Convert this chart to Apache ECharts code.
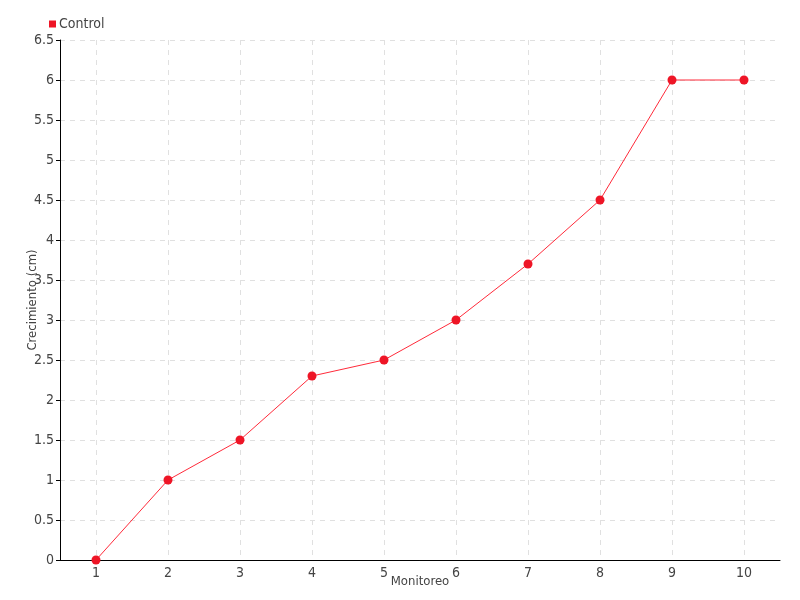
<!DOCTYPE html>
<html><head><meta charset="utf-8">
<script src="https://cdn.jsdelivr.net/npm/echarts@6/dist/echarts.min.js"></script>
<style>html,body{margin:0;padding:0;background:#fff}#c{width:800px;height:600px}</style>
</head><body><div id="c"></div>
<script>
var categories = ['1','2','3','4','5','6','7','8','9','10'];
var controlValues = [0, 1, 1.5, 2.3, 2.5, 3, 3.7, 4.5, 6, 6];
var seriesName = 'Control';
var FONT = '"DejaVu Sans Condensed","Liberation Sans Narrow",sans-serif';
var chart = echarts.init(document.getElementById('c'), null, {renderer:'canvas'});
chart.setOption({
  animation:false,
  textStyle:{fontFamily:FONT},
  legend:{left:44, top:12, itemWidth:7, itemHeight:7, itemGap:4, icon:'rect',
    textStyle:{fontFamily:FONT, fontSize:14, color:'#444', padding:[0,0,0,-2]},
    data:[seriesName]},
  grid:{left:60, right:20, top:40, bottom:40, outerBoundsMode:'none', containLabel:false},
  xAxis:{type:'category', data:categories, boundaryGap:true,
    name:'Monitoreo', nameLocation:'middle', nameGap:15, nameMoveOverlap:false,
    nameTextStyle:{fontFamily:FONT, fontSize:13, color:'#444'},
    axisLine:{lineStyle:{color:'#000', width:1}},
    axisTick:{alignWithLabel:true, length:5, lineStyle:{color:'#000'}},
    axisLabel:{fontFamily:FONT, fontSize:14, color:'#444', margin:6},
    splitLine:{show:true, alignWithLabel:true, lineStyle:{type:[5,5], color:'#e0e0e0'}}},
  yAxis:{type:'value', min:0, max:6.5, interval:0.5,
    name:'Crecimiento (cm)', nameLocation:'middle', nameGap:21, nameMoveOverlap:false,
    nameTextStyle:{fontFamily:FONT, fontSize:13, color:'#444'},
    axisLine:{show:true, lineStyle:{color:'#000', width:1}},
    axisTick:{show:true, length:4, lineStyle:{color:'#000'}},
    axisLabel:{fontFamily:FONT, fontSize:14, color:'#444', margin:6},
    splitLine:{show:true, lineStyle:{type:[5,5], color:'#e0e0e0'}}},
  series:[{name:seriesName, type:'line', data:controlValues,
    symbol:'circle', symbolSize:9,
    itemStyle:{color:'#ee1526'},
    lineStyle:{color:'#ff2a3a', width:1}}]
});
</script></body></html>
